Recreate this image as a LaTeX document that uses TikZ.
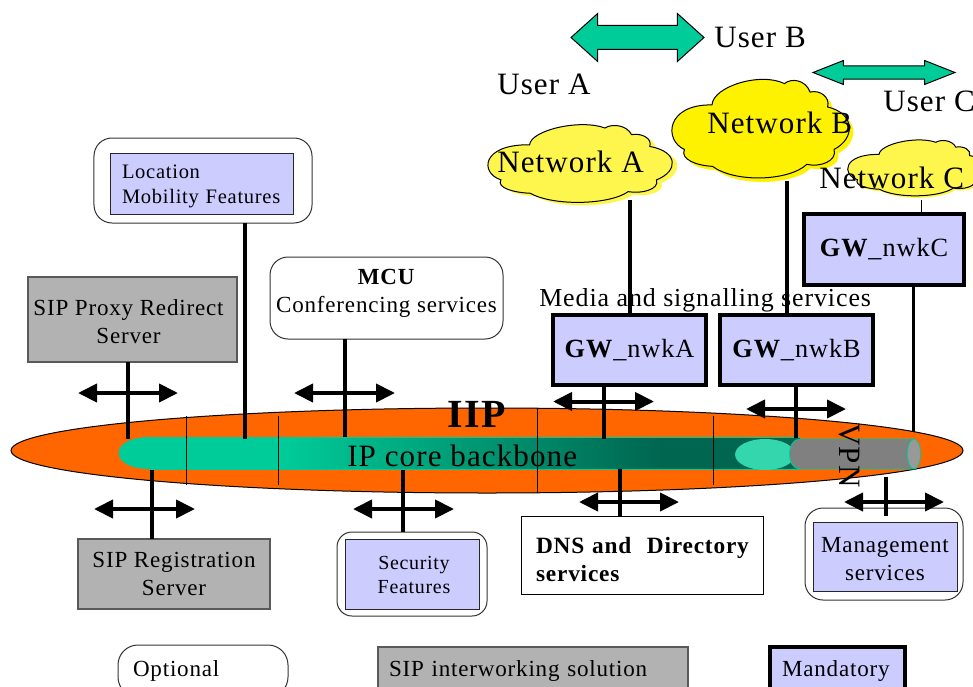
\documentclass[tikz,border=0pt]{standalone}
\usepackage{fontspec}
\setmainfont[LetterSpace=3.5]{Liberation Serif}
\usetikzlibrary{arrows.meta,shapes.geometric,shapes.arrows}
\definecolor{iiporange}{HTML}{FF6600}
\definecolor{coreteal}{HTML}{00CC99}
\definecolor{coredark}{HTML}{006650}
\definecolor{lavender}{HTML}{CCCCFF}
\definecolor{sipgray}{HTML}{B2B2B2}
% unit cloud outline, scaled by the surrounding scope
\newcommand{\cloudoutline}{(.229,.278) .. controls (.235,.10) and (.50,-.04) .. (.634,.073)
  .. controls (.67,.02) and (.75,.03) .. (.777,.155)
  .. controls (.83,.13) and (.89,.20) .. (.875,.298)
  .. controls (1.03,.36) and (1.03,.60) .. (.911,.706)
  .. controls (.93,.82) and (.83,.88) .. (.759,.849)
  .. controls (.66,1.01) and (.36,1.03) .. (.232,.869)
  .. controls (.14,.86) and (.05,.80) .. (.075,.706)
  .. controls (-.04,.62) and (-.03,.27) .. (.229,.278) -- cycle}
\begin{document}
\begin{tikzpicture}[
    x=0.25mm, y=-0.25mm,
    big/.style={font=\fontsize{22.1}{26}\selectfont, inner sep=0pt, anchor=base west},
    med/.style={font=\fontsize{16.4}{20}\selectfont, align=center},
    small/.style={font=\fontsize{14.6}{17.5}\selectfont, align=center},
    box/.style={draw, inner sep=0pt, outer sep=0pt},
    sipbox/.style={box, draw=black!65, line width=0.35mm, fill=sipgray},
    lavbox/.style={box, draw=black!85, line width=0.25mm, fill=lavender},
    gwbox/.style={box, line width=1mm, fill=lavender, font=\fontsize{18.7}{22}\selectfont},
    whitebox/.style={box, rounded corners=4.5mm, draw=black!80, line width=0.25mm, fill=white},
    userarrow/.style={double arrow, draw, fill=coreteal, inner xsep=0pt, line width=0.25mm},
    link/.style={line width=1.1mm},
    flow/.style={{Triangle[length=4.75mm,width=4.5mm]}-{Triangle[length=4.75mm,width=4.5mm]}, line width=1mm},
    tick/.style={line width=0.25mm}
]
\useasboundingbox (0,0) rectangle (973,686);
\clip (0,0) rectangle (973,686);

% IIP ellipse and core backbone
\node[ellipse, draw, fill=iiporange, line width=0.25mm, inner sep=0pt, minimum width=238mm, minimum height=21.25mm] (iip) at (487,450.5) {};
\fill[coreteal] (150,437) .. controls (108,437) and (108,469) .. (150,469) -- (280,469) -- (280,437) -- cycle;
\shade[left color=coreteal, right color=coredark] (280,437) rectangle (660,469);
\fill[coredark] (660,437) rectangle (800,469);
\draw[coreteal, line width=0.2mm] (150,437) -- (800,437) (150,469) -- (800,469);
\fill[coreteal!80!white] (765,454.5) ellipse (30 and 15.5);
\draw[coreteal, fill=black!50, line width=0.2mm] (800,439) .. controls (786,439) and (786,469) .. (800,469) -- (914,469) -- (914,439) -- cycle;
\draw[coreteal, fill=black!40, line width=0.2mm] (914,454) ellipse (6.5 and 15);

% separators across the ellipse
\coordinate (t1) at (186,416);
\coordinate (t2) at (278,416);
\coordinate (t3) at (537,408);
\coordinate (t4) at (713,416);
\draw[tick] (t1) -- ++(0,69);
\draw[tick] (t2) -- ++(0,69);
\draw[tick] (t3) -- ++(0,85);
\draw[tick] (t4) -- ++(0,69);

\node[font=\fontsize{28.4}{30}\selectfont\bfseries, inner sep=0pt, anchor=base west] (iiplabel) at (447,427) {IIP};
\node[big] (core) at (347,466) {IP core backbone};
\node[big, rotate=-90] (vpn) at (839,423) {VPN};

% user arrows
\node[userarrow, minimum height=33.25mm, inner ysep=2.875mm, double arrow head extend=3mm, double arrow tip angle=84] (userab) at (637.5,37.5) {};
\node[userarrow, minimum height=35.5mm, inner ysep=1.5mm, double arrow head extend=1.375mm, double arrow tip angle=43] (userbc) at (884,72.5) {};

% clouds
\begin{scope}[shift={(492,125)}, x=46.5mm, y=-20.5mm]
  \fill[yellow!70!white] \cloudoutline;
\end{scope}
\begin{scope}[shift={(487,122)}, x=46.5mm, y=-20.5mm]
  \draw[fill=yellow!70!white, line width=0.25mm] \cloudoutline;
\end{scope}
\begin{scope}[shift={(675,80)}, x=44.75mm, y=-26mm]
  \fill[yellow] \cloudoutline;
\end{scope}
\begin{scope}[shift={(671,76)}, x=44.75mm, y=-26mm]
  \draw[fill=yellow, line width=0.25mm] \cloudoutline;
\end{scope}
\begin{scope}[shift={(849,140)}, x=35mm, y=-14.75mm]
  \fill[yellow!70!white] \cloudoutline;
\end{scope}
\begin{scope}[shift={(847,138)}, x=35mm, y=-14.75mm]
  \draw[fill=yellow!70!white, line width=0.25mm] \cloudoutline;
\end{scope}

\node[big] (usera) at (497,95) {User A};
\node[big] (userb) at (714,48) {User B};
\node[big] (userc) at (883,111) {User C};
\node[big] (nwa) at (497,172) {Network A};
\node[big] (nwb) at (707,133) {Network B};
\node[big] (nwc) at (819,188) {Network C};

% gateways
\node[gwbox, minimum width=38.25mm, minimum height=17.5mm] (gwa) at (629.5,350) {\textbf{GW}\_nwkA};
\node[gwbox, minimum width=38.25mm, minimum height=17.5mm] (gwb) at (796.5,350) {\textbf{GW}\_nwkB};
\node[gwbox, minimum width=40mm, minimum height=17.75mm] (gwc) at (884,249.5) {\textbf{GW}\_nwkC};
\node[inner sep=0pt, anchor=base west, font=\fontsize{18.45}{22}\selectfont] (media) at (539,306) {Media and signalling services};

% upper servers
\node[whitebox, minimum width=54.5mm, minimum height=21.25mm] (locout) at (203,180.5) {};
\node[lavbox, small, align=left, text width=40mm, inner xsep=2.75mm, minimum height=15.25mm] (loc) at (202,183.5) {\rule{0pt}{14pt}Location\\Mobility Features};
\node[sipbox, minimum width=52.25mm, minimum height=21.25mm, label={[med, xshift=-1mm, yshift=-0.5mm]center:SIP Proxy Redirect\\Server}] (proxy) at (132.5,319.5) {};
\node[whitebox, minimum width=58.25mm, minimum height=20.5mm, label={[med, yshift=1.25mm]center:\textbf{MCU}\\Conferencing services}] (mcu) at (386.5,298) {};

% lower servers
\node[sipbox, med, minimum width=48mm, minimum height=17.5mm] (reg) at (174,574) {SIP Registration\\Server};
\node[whitebox, rounded corners=3.75mm, minimum width=37.5mm, minimum height=21mm] (secout) at (412,574) {};
\node[lavbox, minimum width=33.5mm, minimum height=17.5mm, label={[small, font=\fontsize{14.2}{17.5}\selectfont, xshift=0.5mm, yshift=-0.25mm]center:Security\\Features}] (sec) at (412,574) {};
\node[box, line width=0.25mm, fill=white, align=left, text width=53mm, inner xsep=3.75mm, minimum height=19.5mm, font=\fontsize{16.6}{20}\selectfont\bfseries] (dns) at (642,555) {\rule{0pt}{18pt}DNS and\ \ Directory\\services};
\node[whitebox, minimum width=39.5mm, minimum height=23mm] (mgmtout) at (884,554) {};
\node[lavbox, med, minimum width=36mm, minimum height=17.25mm] (mgmt) at (885,556.5) {\rule{0pt}{14pt}Management\\services};

% legend
\node[whitebox, rounded corners=5mm, med, align=left, text width=35mm, inner xsep=3.75mm, minimum height=13mm] (optional) at (203,671) {Optional};
\node[sipbox, med, align=left, text width=72mm, inner xsep=2.75mm, minimum height=12mm] (interwork) at (533,671) {SIP interworking solution};
\node[gwbox, med, line width=0.8mm, align=left, text width=27.75mm, inner xsep=3mm, minimum height=12mm] (mandatory) at (837.5,671) {Mandatory};

% attachment points on the backbone
\coordinate (b1) at (128,439);
\coordinate (b2) at (245,439);
\coordinate (b3) at (345,437);
\coordinate (b4) at (604,439);
\coordinate (b5) at (796,438);
\coordinate (b6) at (913.5,432);
\coordinate (b7) at (152,470);
\coordinate (b8) at (403,470);
\coordinate (b9) at (620,469);
\coordinate (b10) at (886,477);
\coordinate (n1) at (630,200);
\coordinate (n2) at (787,181);
\coordinate (n3) at (921,200);

% links
\draw[link] (b1 |- proxy.south) -- (b1);
\draw[link] (b2 |- locout.south) -- (b2);
\draw[link] (b3 |- mcu.south) -- (b3);
\draw[link] (b4 |- gwa.south) -- (b4);
\draw[link] (b5 |- gwb.south) -- (b5);
\draw[line width=0.6mm] (b6 |- gwc.south) -- (b6);
\draw[link] (b7) -- (b7 |- reg.north);
\draw[link] (b8) -- (b8 |- secout.north);
\draw[link] (b9) -- (b9 |- dns.north);
\draw[link] (b10) -- (b10 |- dns.north);
\draw[link] (n1) -- (n1 |- gwa.north);
\draw[link] (n2) -- (n2 |- gwb.north);
\draw[tick] (n3) -- (n3 |- gwc.north);

% double arrows crossing the links
\coordinate (f1) at (78,393);
\coordinate (f2) at (294,393);
\coordinate (f3) at (553,401.5);
\coordinate (f4) at (746,409);
\coordinate (f5) at (94,509);
\coordinate (f6) at (353,509);
\coordinate (f7) at (579,502);
\coordinate (f8) at (844,502);
\draw[flow] (f1) -- ++(100,0);
\draw[flow] (f2) -- ++(101,0);
\draw[flow] (f3) -- ++(101,0);
\draw[flow] (f4) -- ++(100,0);
\draw[flow] (f5) -- ++(101,0);
\draw[flow] (f6) -- ++(101,0);
\draw[flow] (f7) -- ++(100,0);
\draw[flow] (f8) -- ++(100,0);

\end{tikzpicture}
\end{document}
